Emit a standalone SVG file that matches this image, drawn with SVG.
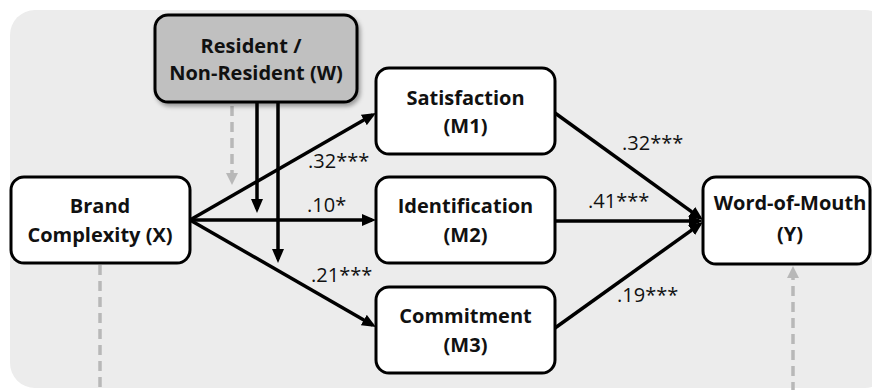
<svg xmlns="http://www.w3.org/2000/svg" width="872" height="390" viewBox="0 0 872 390">
  <style>
    .box { fill: #ffffff; stroke: #000000; stroke-width: 3; }
    .mod { fill: #c0c0c0; stroke: #000000; stroke-width: 3; }
    .lbl { font-family: "Open Sans", "Liberation Sans", sans-serif; font-weight: bold; font-size: 20px; fill: #111111; text-anchor: middle; }
    .num { font-family: "Open Sans", "Liberation Sans", sans-serif; font-size: 20px; fill: #111111; }
    .edge { stroke: #000000; stroke-width: 3.5; fill: none; marker-end: url(#ah); }
    .vert { stroke: #000000; stroke-width: 3.5; fill: none; marker-end: url(#ah); }
    .dash { stroke: #b8b8b8; stroke-width: 3.5; fill: none; stroke-dasharray: 10 6; }
  </style>
  <defs>
    <marker id="ah" markerUnits="userSpaceOnUse" markerWidth="14" markerHeight="12" refX="10" refY="6" orient="auto">
      <path d="M0,0 L14,6 L0,12 z" fill="#000000"/>
    </marker>
    <marker id="ahg" markerUnits="userSpaceOnUse" markerWidth="12" markerHeight="12" refX="8" refY="6" orient="auto">
      <path d="M0,0 L12,6 L0,12 z" fill="#b8b8b8"/>
    </marker>
    <filter id="shadow" x="-10%" y="-10%" width="130%" height="140%">
      <feDropShadow dx="2" dy="3" stdDeviation="2" flood-color="#000000" flood-opacity="0.35"/>
    </filter>
  </defs>

  <rect x="10" y="10" width="880" height="378" rx="25" fill="#ececec"/>

  <g id="connectors">
    <line class="dash" x1="232" y1="106" x2="232" y2="181" marker-end="url(#ahg)"/>
    <line class="dash" x1="100" y1="265" x2="100" y2="392"/>
    <line class="dash" x1="793" y1="392" x2="793" y2="270" marker-end="url(#ahg)"/>
    <line class="edge" x1="190" y1="220" x2="372.5" y2="115"/>
    <line class="edge" x1="190" y1="220" x2="372" y2="220"/>
    <line class="edge" x1="190" y1="220" x2="372.5" y2="325"/>
    <line class="vert" x1="257" y1="103" x2="257" y2="209"/>
    <line class="vert" x1="278" y1="103" x2="278" y2="259"/>
    <line class="edge" x1="555" y1="113" x2="699.8" y2="217.7"/>
    <line class="edge" x1="555" y1="221" x2="699" y2="221"/>
    <line class="edge" x1="555" y1="328" x2="699.7" y2="224.3"/>
    <text class="num" x="308" y="168">.32***</text>
    <text class="num" x="307" y="212">.10*</text>
    <text class="num" x="311" y="282">.21***</text>
    <text class="num" x="622" y="150">.32***</text>
    <text class="num" x="588" y="208">.41***</text>
    <text class="num" x="617" y="302">.19***</text>
  </g>

  <g id="node-w">
    <rect class="mod" x="155" y="15" width="202" height="87" rx="13" filter="url(#shadow)"/>
    <text class="lbl" x="251" y="53">Resident /</text>
    <text class="lbl" x="256" y="80">Non-Resident (W)</text>
  </g>

  <g id="node-x">
    <rect class="box" x="11" y="177" width="179" height="86" rx="13"/>
    <text class="lbl" x="100" y="213">Brand</text>
    <text class="lbl" x="100" y="242">Complexity (X)</text>
  </g>

  <g id="node-m1">
    <rect class="box" x="376" y="68" width="179" height="86" rx="13"/>
    <text class="lbl" x="465.5" y="105">Satisfaction</text>
    <text class="lbl" x="465.5" y="133">(M1)</text>
  </g>

  <g id="node-m2">
    <rect class="box" x="376" y="177" width="179" height="86" rx="13"/>
    <text class="lbl" x="465.5" y="213">Identification</text>
    <text class="lbl" x="465.5" y="242">(M2)</text>
  </g>

  <g id="node-m3">
    <rect class="box" x="376" y="287" width="179" height="86" rx="13"/>
    <text class="lbl" x="465.5" y="323">Commitment</text>
    <text class="lbl" x="465.5" y="352">(M3)</text>
  </g>

  <g id="node-y">
    <rect class="box" x="703" y="177" width="167" height="87" rx="13"/>
    <text class="lbl" x="790" y="210">Word-of-Mouth</text>
    <text class="lbl" x="790" y="241">(Y)</text>
  </g>
</svg>
